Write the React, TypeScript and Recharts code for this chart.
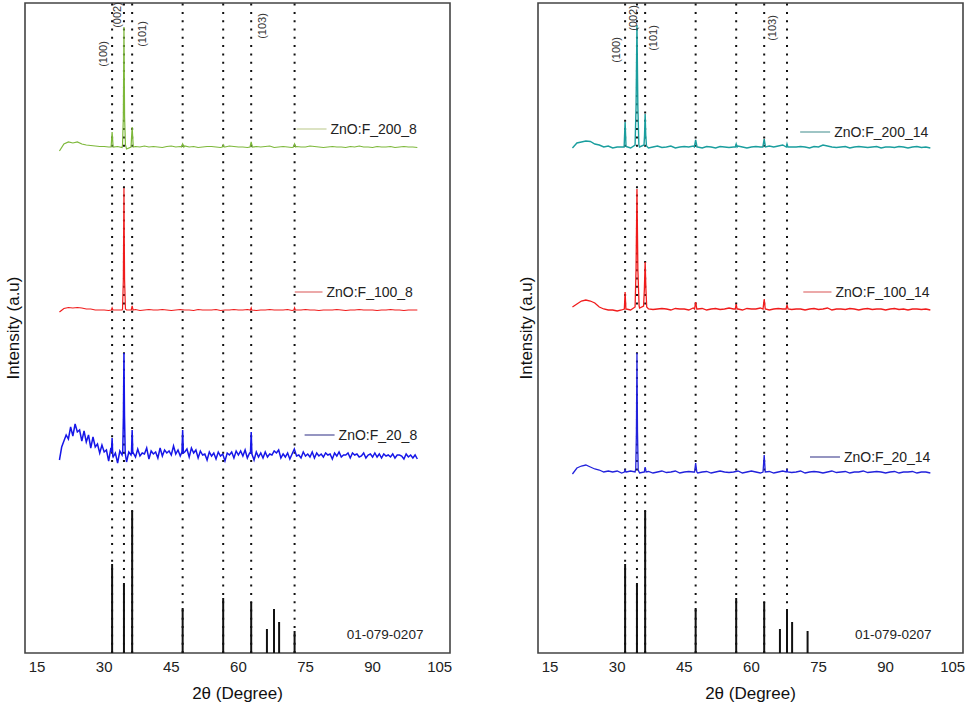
import { ComposedChart, Line, XAxis, YAxis, ReferenceLine, ReferenceArea, ReferenceDot } from "recharts";

// 2θ grid of the scans (degrees) and intensities in a.u. above each trace's own offset
const gridStart = 20;
const xTicks = [15, 30, 45, 60, 75, 90, 105];
const xDomain: [number, number] = [12.3, 107.3];
const yDomain: [number, number] = [0, 650];

// ZnO reference card 01-079-0207
const refCard = "01-079-0207";
const refPos = [31.77, 34.42, 36.25, 47.54, 56.6, 62.86, 66.38, 67.96, 69.1, 72.56];
const refInt = [89, 70, 142, 45, 55, 51, 24, 44, 31, 22];

const hklNames = ["(100)", "(002)", "(101)", "(103)"];
const dottedLeft = [31.77, 34.42, 36.25, 47.54, 56.6, 62.86, 72.56];
const dottedRight = [31.77, 34.42, 36.25, 47.54, 56.6, 62.86, 67.96];

// ---- left panel: ZnO:F_x_8 (1° grid, blue one 0.5°) ----
const green8Base = [
  -4, 3, 5, 4, 5, 3, 2, 1.5, 1, 0.5,
  0.5, 0, 0, 0.5, -0.5, -2, 0, 0.5, 0, 1,
  0, 0.5, 0, -0.5, 0.5, 1, 0, 0.5, 1, 0,
  0.5, -0.5, 0, 0.5, 0.5, 0, -0.5, 0, 1, 0.5,
  0, 0, -0.5, 0, 0.5, 0, 0.5, 1, -0.5, 0,
  0.5, 0, -0.5, 0.5, 0, 0, 1, 0.5, 0, -0.5,
  0, 0.5, 0, 0, -0.5, 0.5, 0, 1, 0, 0,
  -0.5, 0.5, 0, 0, 0.5, -0.5, 0, 0.5, 0, 0,
  -0.5,
];
const green8Peaks = [
  [[31.55, 0], [31.77, 15], [32.0, 0]],
  [[34.1, 2], [34.28, 30], [34.42, 120], [34.56, 30], [34.75, 2]],
  [[36.0, 0], [36.25, 20], [36.5, 0]],
  [[47.3, 0], [47.54, 3], [47.8, 0]],
  [[56.4, 0], [56.6, 2], [56.8, 0]],
  [[62.6, 0], [62.86, 5], [63.1, 0]],
  [[72.3, 0], [72.56, 3], [72.8, 0]],
];

const red8Base = [
  -2, 1.5, 2.5, 2, 2.5, 2, 1, 1, 0, 0,
  0, -0.5, 0, 0, 0, 0, 0, 0.5, -0.5, 0,
  0.5, 0, 0, 0.5, 0, -0.5, 0, 0.5, 0, 0,
  -0.5, 0.5, 0, 0, 0, 0.5, -0.5, 0, 0, 0.5,
  0, 0, 0.5, 0, -0.5, 0, 0, 0.5, 0, 0,
  0, 0.5, -0.5, 0, 0, 0.5, 0, 0, -0.5, 0,
  0, 0, 0.5, 0, -0.5, 0, 0, 0.5, 0, 0,
  0, -0.5, 0, 0, 0.5, 0, 0, -0.5, 0, 0,
  0,
];
const red8Peaks = [
  [[31.6, 0], [31.77, 2], [31.95, 0]],
  [[34.1, 1], [34.28, 30], [34.42, 122], [34.56, 30], [34.75, 1]],
  [[36.05, 0], [36.25, 4], [36.45, 0]],
  [[62.7, 0], [62.86, 2], [63.0, 0]],
  [[72.4, 0], [72.56, 2], [72.7, 0]],
];

const blue8Base = [
  -4, 9, 15, 21, 17, 29, 20, 32, 24, 26,
  15, 25, 14, 21, 8, 19, 9, 12, 3, 11,
  4, 6, -5, 8, -1, 3, -7, 5, 1, 6,
  -6, 4, 1, 3, -1, 7, 0, 3, 2, 8,
  -3, 5, 2, 4, -2, 8, 0, 6, 3, 5,
  1, 10, 2, 6, 0, 6, 4, 7, -1, 8,
  3, 6, -2, 5, 1, 2, -4, 4, 0, 3,
  -3, 4, 0, 2, -5, 3, 1, 4, -2, 5,
  1, 5, 0, 6, -2, 3, 1, -4, 4, -1,
  3, -2, 4, -1, 2, 1, 5, 3, 6, -2,
  2, -1, 3, -3, 2, 7, 0, 1, -2, 4,
  0, 2, -1, 4, -2, 3, 0, 2, -1, 3,
  1, 2, -3, 3, 0, 4, -1, 1, 1, 3,
  -2, 3, 1, 2, -1, 0, 3, -2, 1, 2,
  -1, 3, -1, 2, -2, 2, 0, 1, -1, 2,
  -2, 1, 1, 0, -3, 2, -1, 1, -2, 1,
  -3,
];
const blue8Peaks = [
  [[31.62, 4], [31.77, 18], [31.92, 0]],
  [[34.15, 5], [34.3, 40], [34.42, 103], [34.54, 40], [34.7, 3]],
  [[36.1, 3], [36.25, 26], [36.4, 2]],
  [[47.38, 4], [47.54, 26], [47.7, 3]],
  [[62.7, 3], [62.86, 24], [63.02, 2]],
];

// ---- right panel: ZnO:F_x_14 ----
const teal14Base = [
  -1, 4, 5, 6, 5.5, 3, 2, 0, 1, -1,
  0, 0, 0.5, -1, 0, 0, 0.5, -1, 0, 1,
  -0.5, 0, 1, -1, 0, 0.5, 0, 1, 0, -1,
  0.5, 0, -1, 0.5, 0, -0.5, 0, 1, 0, -1,
  0, 0.5, 0, 0, 1, 0, 1, 2, 1, 0,
  0, 0.5, 0, -1, 0.5, 0, 2, 1, 0, -0.5,
  0, 0.5, -1, 0, 0.5, 0, -0.5, 0, 0.5, -1,
  0, 0, -0.5, 0.5, 0, -1, 0, 0.5, -0.5, 0,
  -1,
];
const teal14Peaks = [
  [[31.55, 0], [31.77, 25], [31.98, 0]],
  [[34.0, 2], [34.22, 40], [34.42, 122], [34.62, 40], [34.85, 2]],
  [[36.0, 2], [36.12, 12], [36.25, 33], [36.38, 12], [36.55, 1]],
  [[47.25, 0], [47.54, 7], [47.85, 0]],
  [[56.4, 0], [56.6, 3], [56.8, 0]],
  [[62.55, 0], [62.86, 8], [63.15, 0]],
  [[67.8, 0], [67.96, 3], [68.15, 0]],
];

const red14Base = [
  2, 5, 8, 9, 8, 6, 2, 0, -1, -1,
  -2, -1, 0, -1, 1, 1, 0, 0, -0.5, 0,
  0.5, 0, -1, 0.5, 0, 0, -1, 1, 0, 0.5,
  -1, 0, 0.5, -0.5, 0, 1, 0, 0, -1, 0.5,
  0, 0, 1, 0, -1, 0, 0.5, 0, 1, -0.5,
  0, 0, -1, 0, 0.5, -0.5, 0, 1, -1, 0,
  0, -0.5, 0.5, 0, -1, 0, 0.5, -0.5, 0, 0,
  -1, 0, 0.5, -0.5, 0, -1, 0, 0, -0.5, 0,
  -1,
];
const red14Peaks = [
  [[31.6, 0], [31.77, 17], [31.95, 0]],
  [[34.0, 2], [34.22, 40], [34.42, 120], [34.62, 40], [34.9, 3]],
  [[35.9, 3], [36.08, 20], [36.25, 47], [36.42, 20], [36.6, 2]],
  [[47.3, 0], [47.54, 7], [47.8, 0]],
  [[56.4, 0], [56.6, 5], [56.8, 0]],
  [[62.6, 0], [62.86, 10], [63.1, 0]],
  [[67.75, 0], [67.96, 4], [68.2, 0]],
];

const blue14Base = [
  -2, 4, 6, 7, 5, 3, 2, 0, 1, 0,
  1, -1, 0, 1, 0, -1, 0, 0.5, -1, 0,
  1, -0.5, 0, 1, -1, 0, 0.5, 0, -1, 0,
  0.5, -1, 0, 1, 0, -0.5, 0, 1, -1, 0,
  1, 0, -1, 0, 0.5, -1, 0, 1, 0, -0.5,
  0, 1, -1, 0, 0.5, 0, -1, 0, 1, -0.5,
  0, 0.5, -1, 0, 0, 1, -0.5, 0, 0.5, 0,
  -1, 0, 0.5, -1, 0, 0, 0.5, -1, 0, 0,
  -1,
];
const blue14Peaks = [
  [[31.6, 0], [31.77, 2], [31.95, 0]],
  [[34.15, 3], [34.3, 40], [34.42, 119], [34.54, 40], [34.7, 2]],
  [[36.05, 0], [36.25, 5], [36.45, 0]],
  [[47.3, 0], [47.54, 9], [47.8, 0]],
  [[62.6, 0], [62.86, 17], [63.1, 0]],
  [[67.8, 0], [67.96, 3], [68.1, 0]],
];

const FONT = "'Liberation Sans', Arial, sans-serif";

// merge the scan grid with the hand-read peak profiles, then lift by the stacking offset
function buildScan(base: number[], step: number, peaks: number[][][], offset: number) {
  const windows = peaks.map((p) => [p[0][0], p[p.length - 1][0]]);
  const pts = base
    .map((v, i) => ({ x: gridStart + i * step, y: v }))
    .filter((p) => !windows.some(([a, b]) => p.x >= a && p.x <= b));
  peaks.forEach((p) => p.forEach(([x, y]) => pts.push({ x, y })));
  pts.sort((a, b) => a.x - b.x);
  return pts.map((p) => ({ x: p.x, y: p.y + offset }));
}

type Trace = {
  name: string;
  color: string;
  legendColor: string;
  width: number;
  data: { x: number; y: number }[];
  legend: { x1: number; x2: number; y: number };
};

type PanelProps = {
  left: number;
  width: number;
  marginRight: number;
  traces: Trace[];
  dotted: number[];
  hkl: { x: number; y: number }[];
  cardPos: { x: number; y: number };
};

function Panel({ left, width, marginRight, traces, dotted, hkl, cardPos }: PanelProps) {
  return (
    <div style={{ position: "absolute", left, top: 0 }}>
      <ComposedChart width={width} height={705} margin={{ top: 3, right: marginRight, bottom: 0, left: 0 }}>
        <XAxis
          type="number"
          dataKey="x"
          domain={xDomain}
          allowDataOverflow
          ticks={xTicks}
          tickLine={false}
          axisLine={false}
          height={52}
          tick={{ fontSize: 15, fill: "#222", fontFamily: FONT }}
          label={{ value: "2θ (Degree)", position: "insideBottom", offset: 6, fontSize: 17, fill: "#111", fontFamily: FONT }}
        />
        <YAxis
          type="number"
          domain={yDomain}
          allowDataOverflow
          width={25}
          tick={false}
          tickLine={false}
          axisLine={false}
          label={{ value: "Intensity (a.u)", angle: -90, position: "center", fontSize: 17, fill: "#111", fontFamily: FONT }}
        />
        <ReferenceArea x1={xDomain[0]} x2={xDomain[1]} y1={yDomain[0]} y2={yDomain[1]} fill="none" stroke="#444" strokeWidth={1.6} />
        {dotted.map((d) => (
          <ReferenceLine key={"d" + d} x={d} stroke="#111" strokeWidth={2} strokeDasharray="2 6.3" />
        ))}
        {refPos.map((d, i) => (
          <ReferenceLine key={"s" + d} segment={[{ x: d, y: 0 }, { x: d, y: refInt[i] }]} stroke="#111" strokeWidth={2} />
        ))}
        {traces.map((t) => (
          <Line
            key={t.name}
            data={t.data}
            dataKey="y"
            type="linear"
            stroke={t.color}
            strokeWidth={t.width}
            dot={false}
            activeDot={false}
            isAnimationActive={false}
          />
        ))}
        {traces.map((t) => (
          <ReferenceLine
            key={"l" + t.name}
            segment={[{ x: t.legend.x1, y: t.legend.y }, { x: t.legend.x2, y: t.legend.y }]}
            stroke={t.legendColor}
            strokeWidth={1.3}
          />
        ))}
        {traces.map((t) => (
          <ReferenceDot
            key={"t" + t.name}
            x={t.legend.x2}
            y={t.legend.y}
            r={0}
            fill="none"
            stroke="none"
            label={{ value: t.name, position: "right", offset: 4, fontSize: 14, fill: "#222", fontFamily: FONT }}
          />
        ))}
        {hkl.map((h, i) => (
          <ReferenceDot
            key={"h" + i}
            x={h.x}
            y={h.y}
            r={0}
            fill="none"
            stroke="none"
            label={{ value: hklNames[i], angle: -90, position: "center", fontSize: 11, fill: "#333", fontFamily: FONT }}
          />
        ))}
        <ReferenceDot
          x={cardPos.x}
          y={cardPos.y}
          r={0}
          fill="none"
          stroke="none"
          label={{ value: refCard, position: "center", fontSize: 13.5, fill: "#222", fontFamily: FONT }}
        />
      </ComposedChart>
    </div>
  );
}

const leftTraces: Trace[] = [
  { name: "ZnO:F_200_8", color: "#7db83a", legendColor: "#c9d4a2", width: 1.2, data: buildScan(green8Base, 1, green8Peaks, 506), legend: { x1: 73, x2: 79.7, y: 524 } },
  { name: "ZnO:F_100_8", color: "#f01c1c", legendColor: "#e27a7a", width: 1.2, data: buildScan(red8Base, 1, red8Peaks, 343), legend: { x1: 72.6, x2: 78.8, y: 361 } },
  { name: "ZnO:F_20_8", color: "#1616e8", legendColor: "#5c5ca0", width: 1.5, data: buildScan(blue8Base, 0.5, blue8Peaks, 197), legend: { x1: 74.8, x2: 81.5, y: 218 } },
];

const rightTraces: Trace[] = [
  { name: "ZnO:F_200_14", color: "#1a9e9e", legendColor: "#6aa6a6", width: 1.4, data: buildScan(teal14Base, 1, teal14Peaks, 506), legend: { x1: 70.9, x2: 77.6, y: 521 } },
  { name: "ZnO:F_100_14", color: "#f01c1c", legendColor: "#e27a7a", width: 1.3, data: buildScan(red14Base, 1, red14Peaks, 344), legend: { x1: 71.6, x2: 77.9, y: 361 } },
  { name: "ZnO:F_20_14", color: "#2222dc", legendColor: "#5c5ca0", width: 1.3, data: buildScan(blue14Base, 1, blue14Peaks, 181), legend: { x1: 73.1, x2: 79.8, y: 196 } },
];

export default function App() {
  return (
    <div style={{ position: "absolute", left: 0, top: 0, width: 969, height: 705, background: "#fff", fontFamily: FONT }}>
      <Panel
        left={0}
        width={484}
        marginRight={34}
        traces={leftTraces}
        dotted={dottedLeft}
        hkl={[{ x: 29.8, y: 599 }, { x: 32.9, y: 638 }, { x: 38.5, y: 619 }, { x: 65.2, y: 627 }]}
        cardPos={{ x: 92.8, y: 19 }}
      />
      <Panel
        left={513}
        width={456}
        marginRight={6}
        traces={rightTraces}
        dotted={dottedRight}
        hkl={[{ x: 29.7, y: 603 }, { x: 33.5, y: 635 }, { x: 38.1, y: 615 }, { x: 64.7, y: 625 }]}
        cardPos={{ x: 91.7, y: 19 }}
      />
    </div>
  );
}
